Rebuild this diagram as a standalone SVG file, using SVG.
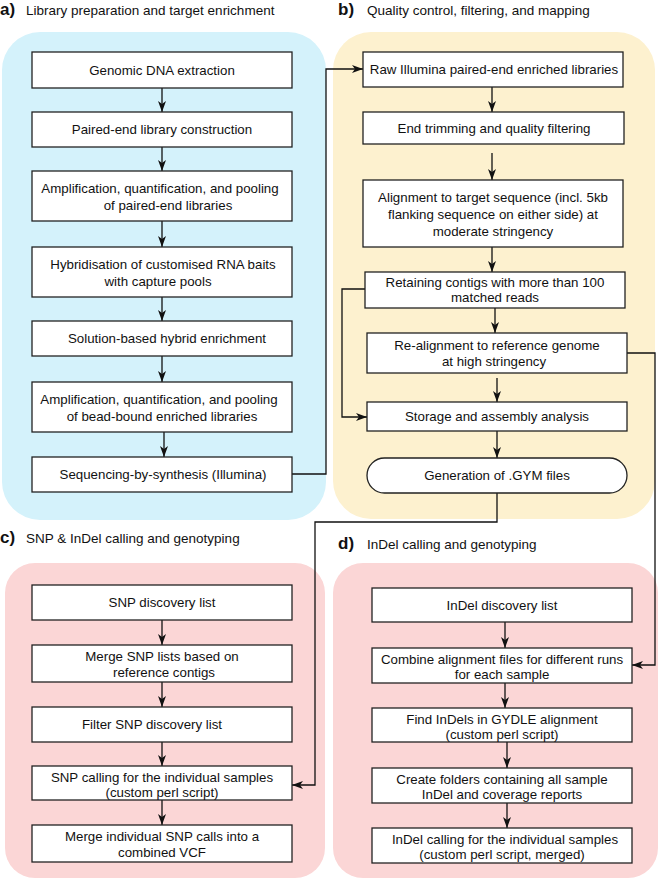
<svg xmlns="http://www.w3.org/2000/svg" width="659" height="881" viewBox="0 0 659 881">
<style>
.bg-a{fill:#d4f2fb}
.bg-b{fill:#fdf1cf}
.bg-cd{fill:#fbd6d6}
.box{fill:#fff;stroke:#222;stroke-width:1.3}
.t{font-family:"Liberation Sans",Arial,sans-serif;font-size:13.3px;fill:#111;text-anchor:middle}
.h{font-family:"Liberation Sans",Arial,sans-serif;font-size:13.5px;fill:#111}
.hb{font-family:"Liberation Sans",Arial,sans-serif;font-size:17px;font-weight:bold;fill:#111}
.c{fill:none;stroke:#111;stroke-width:1.3;marker-end:url(#ah)}
</style>
<defs>
<marker id="ah" markerUnits="userSpaceOnUse" markerWidth="12" markerHeight="10" refX="11" refY="4" orient="auto">
<path d="M0,0 L11,4 L0,8 L3,4 z" fill="#111"/>
</marker>
</defs>
<g id="panels">
<rect class="bg-a" x="2" y="32" width="324" height="488" rx="38"/>
<rect class="bg-b" x="333" y="32" width="322" height="487" rx="38"/>
<rect class="bg-cd" x="5" y="563" width="320" height="315" rx="30"/>
<rect class="bg-cd" x="333" y="563" width="325" height="315" rx="30"/>
</g>
<g id="titles">
<text class="hb" x="0" y="15">a)</text><text class="h" x="26" y="15">Library preparation and target enrichment</text>
<text class="hb" x="338" y="15">b)</text><text class="h" x="367" y="15">Quality control, filtering, and mapping</text>
<text class="hb" x="0" y="543">c)</text><text class="h" x="26" y="543">SNP &amp; InDel calling and genotyping</text>
<text class="hb" x="338" y="549">d)</text><text class="h" x="367" y="549">InDel calling and genotyping</text>
</g>
<g id="connectors">
<line class="c" x1="162" y1="88" x2="162" y2="112"/>
<line class="c" x1="162" y1="147" x2="162" y2="171"/>
<line class="c" x1="162" y1="221" x2="162" y2="247"/>
<line class="c" x1="162" y1="297" x2="162" y2="321"/>
<line class="c" x1="162" y1="356" x2="162" y2="382"/>
<line class="c" x1="164" y1="432" x2="164" y2="457"/>
<path class="c" d="M292,474 H326 V69 H363"/>
<line class="c" x1="492" y1="87" x2="492" y2="112"/>
<line class="c" x1="492" y1="153" x2="492" y2="180"/>
<line class="c" x1="492" y1="247" x2="492" y2="272"/>
<line class="c" x1="495" y1="308" x2="495" y2="333"/>
<line class="c" x1="497" y1="378" x2="497" y2="402"/>
<line class="c" x1="497" y1="431" x2="497" y2="458"/>
<path class="c" d="M365,289 H342 V417 H367"/>
<path class="c" d="M627,353 H655 V665 H632"/>
<path class="c" d="M497,493 V522 H315 V785 H292"/>
<line class="c" x1="162" y1="620" x2="162" y2="645"/>
<line class="c" x1="162" y1="682" x2="162" y2="707"/>
<line class="c" x1="162" y1="742" x2="162" y2="766"/>
<line class="c" x1="162" y1="800" x2="162" y2="825"/>
<line class="c" x1="505" y1="622" x2="505" y2="648"/>
<line class="c" x1="505" y1="683" x2="505" y2="708"/>
<line class="c" x1="507" y1="742" x2="507" y2="768"/>
<line class="c" x1="507" y1="803" x2="507" y2="828"/>
</g>
<g id="a1"><rect class="box" x="32" y="52" width="260" height="36"/><text class="t" x="162" y="75">Genomic DNA extraction</text></g>
<g id="a2"><rect class="box" x="32" y="112" width="260" height="35"/><text class="t" x="162" y="134">Paired-end library construction</text></g>
<g id="a3"><rect class="box" x="32" y="171" width="260" height="50"/><text class="t" x="160" y="193">Amplification, quantification, and pooling</text><text class="t" x="168" y="210">of paired-end libraries</text></g>
<g id="a4"><rect class="box" x="32" y="247" width="260" height="50"/><text class="t" x="163" y="269">Hybridisation of customised RNA baits</text><text class="t" x="158" y="286">with capture pools</text></g>
<g id="a5"><rect class="box" x="32" y="321" width="260" height="35"/><text class="t" x="167" y="343">Solution-based hybrid enrichment</text></g>
<g id="a6"><rect class="box" x="32" y="382" width="260" height="50"/><text class="t" x="159" y="404">Amplification, quantification, and pooling</text><text class="t" x="162" y="421">of bead-bound enriched libraries</text></g>
<g id="a7"><rect class="box" x="32" y="457" width="260" height="35"/><text class="t" x="163" y="479">Sequencing-by-synthesis (Illumina)</text></g>
<g id="b1"><rect class="box" x="363" y="52" width="260" height="35"/><text class="t" x="494" y="74">Raw Illumina paired-end enriched libraries</text></g>
<g id="b2"><rect class="box" x="363" y="112" width="261" height="32"/><text class="t" x="494" y="133">End trimming and quality filtering</text></g>
<g id="b3"><rect class="box" x="363" y="180" width="260" height="67"/><text class="t" x="493" y="202">Alignment to target sequence (incl. 5kb</text><text class="t" x="493" y="219">flanking sequence on either side) at</text><text class="t" x="493" y="236">moderate stringency</text></g>
<g id="b4"><rect class="box" x="365" y="272" width="260" height="36"/><text class="t" x="495" y="287">Retaining contigs with more than 100</text><text class="t" x="495" y="302">matched reads</text></g>
<g id="b5"><rect class="box" x="367" y="333" width="260" height="40"/><text class="t" x="497" y="350">Re-alignment to reference genome</text><text class="t" x="494" y="366">at high stringency</text></g>
<g id="b6"><rect class="box" x="367" y="402" width="260" height="29"/><text class="t" x="497" y="421">Storage and assembly analysis</text></g>
<g id="b7"><rect class="box" x="367" y="458" width="260" height="35" rx="17.5"/><text class="t" x="497" y="480">Generation of .GYM files</text></g>
<g id="c1"><rect class="box" x="32" y="585" width="260" height="35"/><text class="t" x="162" y="607">SNP discovery list</text></g>
<g id="c2"><rect class="box" x="32" y="645" width="260" height="37"/><text class="t" x="162" y="661">Merge SNP lists based on</text><text class="t" x="164" y="677">reference contigs</text></g>
<g id="c3"><rect class="box" x="32" y="707" width="260" height="35"/><text class="t" x="152" y="729">Filter SNP discovery list</text></g>
<g id="c4"><rect class="box" x="32" y="766" width="260" height="34"/><text class="t" x="162" y="782">SNP calling for the individual samples</text><text class="t" x="162" y="797">(custom perl script)</text></g>
<g id="c5"><rect class="box" x="32" y="825" width="260" height="37"/><text class="t" x="162" y="841">Merge individual SNP calls into a</text><text class="t" x="162" y="857">combined VCF</text></g>
<g id="d1"><rect class="box" x="372" y="588" width="260" height="34"/><text class="t" x="502" y="610">InDel discovery list</text></g>
<g id="d2"><rect class="box" x="372" y="648" width="260" height="35"/><text class="t" x="502" y="664">Combine alignment files for different runs</text><text class="t" x="502" y="679">for each sample</text></g>
<g id="d3"><rect class="box" x="372" y="708" width="260" height="34"/><text class="t" x="502" y="724">Find InDels in GYDLE alignment</text><text class="t" x="502" y="739">(custom perl script)</text></g>
<g id="d4"><rect class="box" x="372" y="768" width="260" height="35"/><text class="t" x="502" y="784">Create folders containing all sample</text><text class="t" x="502" y="799">InDel and coverage reports</text></g>
<g id="d5"><rect class="box" x="372" y="828" width="260" height="35"/><text class="t" x="505" y="844">InDel calling for the individual samples</text><text class="t" x="502" y="859">(custom perl script, merged)</text></g>
</svg>
